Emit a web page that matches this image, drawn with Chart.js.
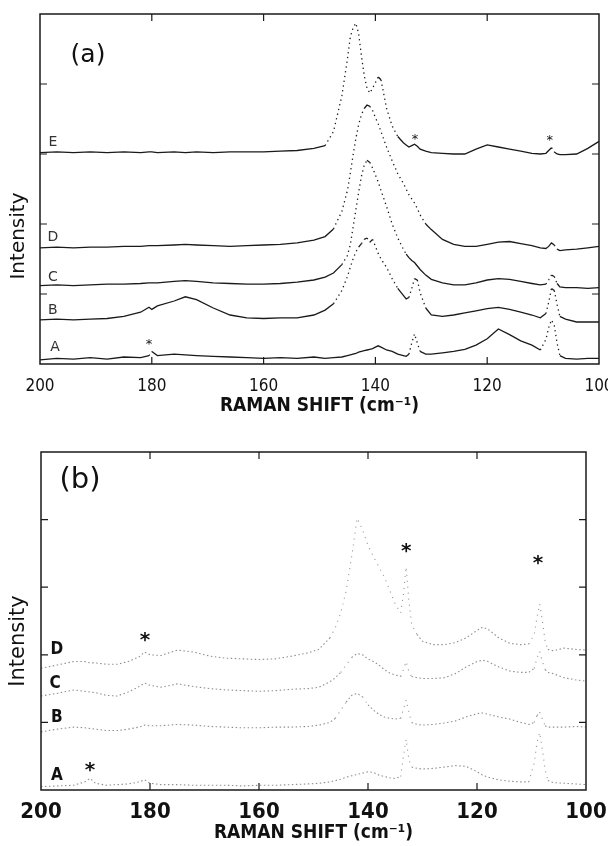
<!DOCTYPE html>
<html>
<head>
<meta charset="utf-8">
<title>Raman spectra</title>
<script src="https://cdn.jsdelivr.net/npm/chart.js@4.4.1/dist/chart.umd.min.js"></script>
<style>
  body { margin: 0; background: #fff; }
  canvas { position: absolute; left: 0; }
  #ramanA { top: 0; }
  #ramanB { top: 423px; }
</style>
</head>
<body>
<canvas id="ramanA" width="608" height="423"></canvas>
<canvas id="ramanB" width="608" height="423"></canvas>
<script>
// Axis ticks
const shiftTicks = [200, 180, 160, 140, 120, 100];
const intensityTicks = [0, 1, 2, 3, 4, 5];

// Panel (a): Raman shift grid (cm-1) and traces A..E (offset intensities)
const shiftsTop = [
  200, 197, 194, 191, 188, 185, 182, 180.5, 180, 179, 176, 174, 172, 169, 166, 163, 160,
  157, 154, 151, 149, 147.5, 146, 145, 144.5, 144, 143.5, 143, 142.5, 142, 141.5, 141, 140.5,
  140, 139.5, 139, 138, 137, 136, 135, 134.5, 134, 133.5, 133, 132.5, 132, 131, 130,
  128, 126, 124, 122, 120, 118, 116, 114, 112, 110.5, 109.5, 109, 108.5, 108, 107.5, 107, 106, 104, 102, 100
];
const topE = [
  3.02, 3.03, 3.02, 3.03, 3.02, 3.03, 3.02, 3.03, 3.03, 3.02, 3.03, 3.02, 3.03, 3.02, 3.03, 3.03, 3.03,
  3.04, 3.05, 3.08, 3.12, 3.32, 3.83, 4.36, 4.67, 4.8, 4.87, 4.72, 4.4, 4.12, 3.94, 3.87, 3.94,
  4.02, 4.1, 4.06, 3.65, 3.4, 3.25, 3.16, 3.13, 3.1, 3.12, 3.14, 3.11, 3.07, 3.04, 3.02,
  3.01, 3.0, 3.0, 3.07, 3.13, 3.1, 3.07, 3.04, 3.01, 3.0, 3.01, 3.05, 3.09, 3.03, 3.0, 2.99, 2.99, 3.0, 3.08, 3.18
];
const topD = [
  1.66, 1.67, 1.66, 1.67, 1.67, 1.68, 1.68, 1.69, 1.69, 1.69, 1.7, 1.71, 1.7, 1.69, 1.68, 1.69, 1.7,
  1.71, 1.73, 1.77, 1.82, 1.93, 2.18, 2.48, 2.72, 2.98, 3.22, 3.42, 3.56, 3.65, 3.7, 3.68, 3.62,
  3.52, 3.43, 3.32, 3.1, 2.9, 2.72, 2.58, 2.5, 2.42, 2.36, 2.3, 2.22, 2.13, 2.0, 1.92,
  1.78, 1.71, 1.68, 1.68, 1.71, 1.74, 1.75, 1.72, 1.69, 1.66, 1.65, 1.68, 1.73, 1.7, 1.64, 1.62, 1.63, 1.64, 1.66, 1.68
];
const topC = [
  1.12, 1.13, 1.12, 1.13, 1.14, 1.14, 1.15, 1.16, 1.16, 1.16, 1.18, 1.19, 1.18, 1.16, 1.15, 1.14, 1.14,
  1.15, 1.17, 1.2, 1.24, 1.3, 1.42, 1.55, 1.7, 1.95, 2.2, 2.45, 2.68, 2.84, 2.91, 2.88, 2.8,
  2.7, 2.6, 2.48, 2.25, 2.0, 1.8, 1.64, 1.57, 1.52, 1.48, 1.45, 1.4, 1.35, 1.27, 1.21,
  1.16, 1.13, 1.13, 1.16, 1.2, 1.22, 1.21, 1.18, 1.15, 1.13, 1.14, 1.2, 1.27, 1.25, 1.15, 1.1, 1.09, 1.09, 1.08, 1.09
];
const topB = [
  0.63, 0.64, 0.63, 0.64, 0.65, 0.68, 0.74, 0.81, 0.78, 0.83, 0.9, 0.96, 0.92, 0.8, 0.7, 0.66, 0.65,
  0.66, 0.66, 0.7, 0.77, 0.86, 1.05, 1.25, 1.38, 1.5, 1.6, 1.67, 1.72, 1.78, 1.8, 1.74, 1.78,
  1.68, 1.58, 1.5, 1.38, 1.22, 1.08, 0.98, 0.93, 0.95, 1.08, 1.22, 1.2, 1.02, 0.8, 0.7,
  0.68, 0.7, 0.73, 0.76, 0.79, 0.81, 0.78, 0.74, 0.7, 0.66, 0.72, 0.88, 1.08, 1.05, 0.85, 0.68, 0.64, 0.6, 0.6, 0.6
];
const topA = [
  0.06, 0.08, 0.07, 0.09, 0.07, 0.1, 0.09, 0.12, 0.18, 0.12, 0.14, 0.13, 0.12, 0.11, 0.1, 0.09, 0.08,
  0.09, 0.08, 0.1, 0.08, 0.09, 0.1, 0.12, 0.13, 0.14, 0.15, 0.17, 0.18, 0.19, 0.2, 0.21, 0.22,
  0.24, 0.26, 0.24, 0.2, 0.18, 0.14, 0.12, 0.11, 0.14, 0.3, 0.43, 0.3, 0.18, 0.14, 0.14,
  0.16, 0.18, 0.21, 0.27, 0.36, 0.5, 0.42, 0.33, 0.27, 0.2, 0.35, 0.52, 0.63, 0.55, 0.3, 0.12, 0.08, 0.07, 0.08, 0.08
];

// Panel (b): grid and traces A..D
const shiftsBottom = [
  200, 197, 194, 192, 191, 190, 188, 186, 184, 182, 181, 180, 178, 175, 172, 169, 166, 163, 160,
  157, 154, 151, 149, 147, 146, 145, 144, 143, 142, 141, 140,
  139, 138, 137, 136, 135, 134, 133.5, 133, 132.5, 132, 131, 130,
  128, 126, 124, 122, 120, 119, 118, 116, 114, 112, 110.5, 109.5, 109, 108.5, 108, 107.5, 107, 106, 104, 102, 100
];
const bottomD = [
  1.8, 1.85, 1.9, 1.9, 1.88, 1.88, 1.86, 1.86, 1.9, 1.97, 2.04, 2.0, 1.99, 2.07, 2.04, 1.98, 1.95, 1.94, 1.93,
  1.94, 1.98, 2.03, 2.08, 2.25, 2.4, 2.62, 2.95, 3.45, 4.02, 3.85, 3.62,
  3.45, 3.3, 3.15, 2.95, 2.75, 2.62, 2.9, 3.3, 2.8, 2.45, 2.3, 2.2,
  2.15, 2.15, 2.18, 2.25, 2.36, 2.41, 2.38, 2.25, 2.17, 2.15, 2.16, 2.3, 2.55, 2.75, 2.5, 2.2, 2.08, 2.06, 2.1, 2.08, 2.07
];
const bottomC = [
  1.39, 1.43, 1.48, 1.46, 1.45, 1.44, 1.4, 1.39, 1.45, 1.53, 1.58, 1.55, 1.52, 1.57, 1.53, 1.5, 1.48, 1.47, 1.46,
  1.47, 1.49, 1.5, 1.52, 1.6, 1.66, 1.74, 1.85, 1.96, 2.02, 2.0, 1.94,
  1.9, 1.85, 1.78, 1.73, 1.7, 1.68, 1.78, 1.9, 1.75, 1.68, 1.66, 1.65,
  1.65, 1.66, 1.72, 1.82, 1.9, 1.92, 1.9, 1.82, 1.76, 1.74, 1.74, 1.8, 1.95, 2.05, 1.9, 1.78, 1.74, 1.72, 1.66, 1.63, 1.61
];
const bottomB = [
  0.86, 0.9, 0.93, 0.92, 0.91, 0.9, 0.88, 0.88, 0.9, 0.93, 0.96, 0.95, 0.95, 0.97, 0.96, 0.94, 0.93, 0.92, 0.92,
  0.93, 0.93, 0.94, 0.96, 1.0, 1.06, 1.18, 1.3, 1.4, 1.43, 1.38, 1.26,
  1.18, 1.12, 1.08, 1.06, 1.05, 1.06, 1.2, 1.33, 1.15, 1.0, 0.97, 0.96,
  0.97, 0.99, 1.02, 1.08, 1.13, 1.14, 1.12, 1.08, 1.05, 1.0, 0.97, 1.0, 1.1, 1.15, 1.05, 0.95, 0.93, 0.93, 0.93, 0.94, 0.93
];
const bottomA = [
  0.05, 0.06, 0.07, 0.12, 0.17, 0.1, 0.07, 0.08, 0.09, 0.12, 0.15, 0.1, 0.08, 0.08, 0.07, 0.07, 0.07, 0.06, 0.07,
  0.07, 0.08, 0.09, 0.1, 0.12, 0.14, 0.16, 0.19, 0.21, 0.23, 0.25, 0.27,
  0.26, 0.22, 0.2, 0.18, 0.17, 0.2, 0.5, 0.75, 0.45, 0.34, 0.32, 0.31,
  0.32, 0.34, 0.36, 0.35, 0.27, 0.22, 0.19, 0.15, 0.13, 0.12, 0.12, 0.4, 0.7, 0.85, 0.6, 0.3, 0.14, 0.11, 0.1, 0.09, 0.08
];

const NARROW = "'Liberation Sans Narrow', 'DejaVu Sans Condensed', sans-serif";
const SANS = "'DejaVu Sans', sans-serif";

// steep parts of a scan come out as separate dots
function isSteep(ctx) {
  const dx = Math.abs(ctx.p1.x - ctx.p0.x);
  const dy = Math.abs(ctx.p1.y - ctx.p0.y);
  return dy > 1.3 * dx;
}

function spectrum(shifts, values, style) {
  return {
    data: shifts.map((x, i) => ({ x, y: values[i] })),
    borderColor: style.color,
    borderWidth: style.width,
    borderDash: style.dash,
    pointRadius: 0,
    tension: 0,
    fill: false,
    segment: { borderDash: ctx => isSteep(ctx) ? style.steepDash : undefined }
  };
}

// frame, inward ticks and text labels
const decorPlugin = {
  id: 'decor',
  afterDraw(chart, args, o) {
    const { ctx, chartArea: a, scales: { x, y } } = chart;
    ctx.save();
    ctx.strokeStyle = '#1a1a1a';
    ctx.lineWidth = o.frameWidth;
    ctx.strokeRect(a.left, a.top, a.right - a.left, a.bottom - a.top);
    ctx.lineWidth = 1.2;
    ctx.beginPath();
    x.ticks.forEach(t => {
      if (t.value <= x.min || t.value >= x.max) return;
      const px = x.getPixelForValue(t.value);
      ctx.moveTo(px, a.bottom); ctx.lineTo(px, a.bottom - o.tickLen);
      ctx.moveTo(px, a.top); ctx.lineTo(px, a.top + o.tickLen);
    });
    y.ticks.forEach(t => {
      if (t.value <= y.min || t.value >= y.max) return;
      const py = y.getPixelForValue(t.value);
      ctx.moveTo(a.left, py); ctx.lineTo(a.left + o.tickLen, py);
      ctx.moveTo(a.right, py); ctx.lineTo(a.right - o.tickLen, py);
    });
    ctx.stroke();

    o.notes.forEach(n => {
      const px = n.x !== undefined ? x.getPixelForValue(n.x) : n.px;
      const py = n.y !== undefined ? y.getPixelForValue(n.y) : n.py;
      ctx.save();
      ctx.translate(px, py);
      if (n.rotate) ctx.rotate(n.rotate);
      ctx.font = n.font;
      ctx.fillStyle = n.color || '#111';
      ctx.textAlign = 'center';
      ctx.textBaseline = 'middle';
      ctx.fillText(n.text, 0, 0);
      ctx.restore();
    });
    ctx.restore();
  }
};

function makeScales(cfg) {
  return {
    x: {
      type: 'linear', reverse: true, min: 100, max: 200,
      afterBuildTicks: s => { s.ticks = shiftTicks.map(v => ({ value: v })); },
      afterFit: s => { s.height = cfg.xHeight; s.paddingLeft = 0; s.paddingRight = 0; },
      ticks: { font: cfg.tickFont, color: '#111', padding: cfg.tickPad, maxRotation: 0, autoSkip: false },
      grid: { display: false },
      border: { display: false },
      title: {
        display: true, text: 'RAMAN SHIFT (cm⁻¹)', color: '#111',
        font: { family: NARROW, size: 19, weight: 'bold' },
        padding: { top: 0, bottom: cfg.titlePad }
      }
    },
    y: {
      min: 0, max: 5,
      afterBuildTicks: s => { s.ticks = intensityTicks.map(v => ({ value: v })); },
      afterFit: s => { s.width = cfg.yWidth; },
      ticks: { display: false },
      grid: { display: false },
      border: { display: false }
    }
  };
}

const topStyle = { color: '#1a1a1a', width: 1.3, dash: [], steepDash: [1.3, 3.5] };
const bottomStyle = { color: '#8f8f8f', width: 1.1, dash: [1.5, 2.5], steepDash: [1, 5] };

new Chart(document.getElementById('ramanA'), {
  type: 'line',
  data: {
    datasets: [
      spectrum(shiftsTop, topA, topStyle),
      spectrum(shiftsTop, topB, topStyle),
      spectrum(shiftsTop, topC, topStyle),
      spectrum(shiftsTop, topD, topStyle),
      spectrum(shiftsTop, topE, topStyle)
    ]
  },
  options: {
    responsive: false,
    animation: false,
    events: [],
    layout: { padding: { top: 14, right: 9, left: 0, bottom: 0 } },
    scales: makeScales({ xHeight: 59, yWidth: 40, tickPad: 4, titlePad: 6,
      tickFont: { family: NARROW, size: 17 } }),
    plugins: {
      legend: { display: false },
      tooltip: { enabled: false },
      decor: {
        frameWidth: 1.5, tickLen: 7,
        notes: [
          { text: '(a)', px: 88, py: 55, font: `25px ${SANS}` },
          { text: 'Intensity', px: 19, py: 236, rotate: -Math.PI / 2, font: `20px ${SANS}` },
          { text: 'E', x: 197.7, y: 3.16, font: `14px ${SANS}`, color: '#333' },
          { text: 'D', x: 197.7, y: 1.81, font: `14px ${SANS}`, color: '#333' },
          { text: 'C', x: 197.7, y: 1.24, font: `14px ${SANS}`, color: '#333' },
          { text: 'B', x: 197.7, y: 0.76, font: `14px ${SANS}`, color: '#333' },
          { text: 'A', x: 197.3, y: 0.24, font: `14px ${SANS}`, color: '#333' },
          { text: '*', x: 180.5, y: 0.27, font: `13px ${SANS}` },
          { text: '*', x: 132.9, y: 3.2, font: `13px ${SANS}` },
          { text: '*', x: 108.8, y: 3.19, font: `13px ${SANS}` }
        ]
      }
    }
  },
  plugins: [decorPlugin]
});

new Chart(document.getElementById('ramanB'), {
  type: 'line',
  data: {
    datasets: [
      spectrum(shiftsBottom, bottomA, bottomStyle),
      spectrum(shiftsBottom, bottomB, bottomStyle),
      spectrum(shiftsBottom, bottomC, bottomStyle),
      spectrum(shiftsBottom, bottomD, bottomStyle)
    ]
  },
  options: {
    responsive: false,
    animation: false,
    events: [],
    layout: { padding: { top: 29, right: 22, left: 0, bottom: 0 } },
    scales: makeScales({ xHeight: 56, yWidth: 41, tickPad: 1, titlePad: 2,
      tickFont: { family: NARROW, size: 22, weight: 'bold' } }),
    plugins: {
      legend: { display: false },
      tooltip: { enabled: false },
      decor: {
        frameWidth: 1.5, tickLen: 7,
        notes: [
          { text: '(b)', px: 80, py: 57, font: `29px ${SANS}` },
          { text: 'Intensity', px: 19, py: 218, rotate: -Math.PI / 2, font: `21px ${SANS}` },
          { text: 'D', x: 197.1, y: 2.07, font: `bold 17px ${NARROW}` },
          { text: 'C', x: 197.4, y: 1.58, font: `bold 17px ${NARROW}` },
          { text: 'B', x: 197.1, y: 1.07, font: `bold 17px ${NARROW}` },
          { text: 'A', x: 197.1, y: 0.22, font: `bold 17px ${NARROW}` },
          { text: '*', x: 191, y: 0.28, font: `bold 20px ${SANS}` },
          { text: '*', x: 180.9, y: 2.2, font: `bold 20px ${SANS}` },
          { text: '*', x: 133, y: 3.52, font: `bold 20px ${SANS}` },
          { text: '*', x: 108.8, y: 3.34, font: `bold 20px ${SANS}` }
        ]
      }
    }
  },
  plugins: [decorPlugin]
});
</script>
</body>
</html>
